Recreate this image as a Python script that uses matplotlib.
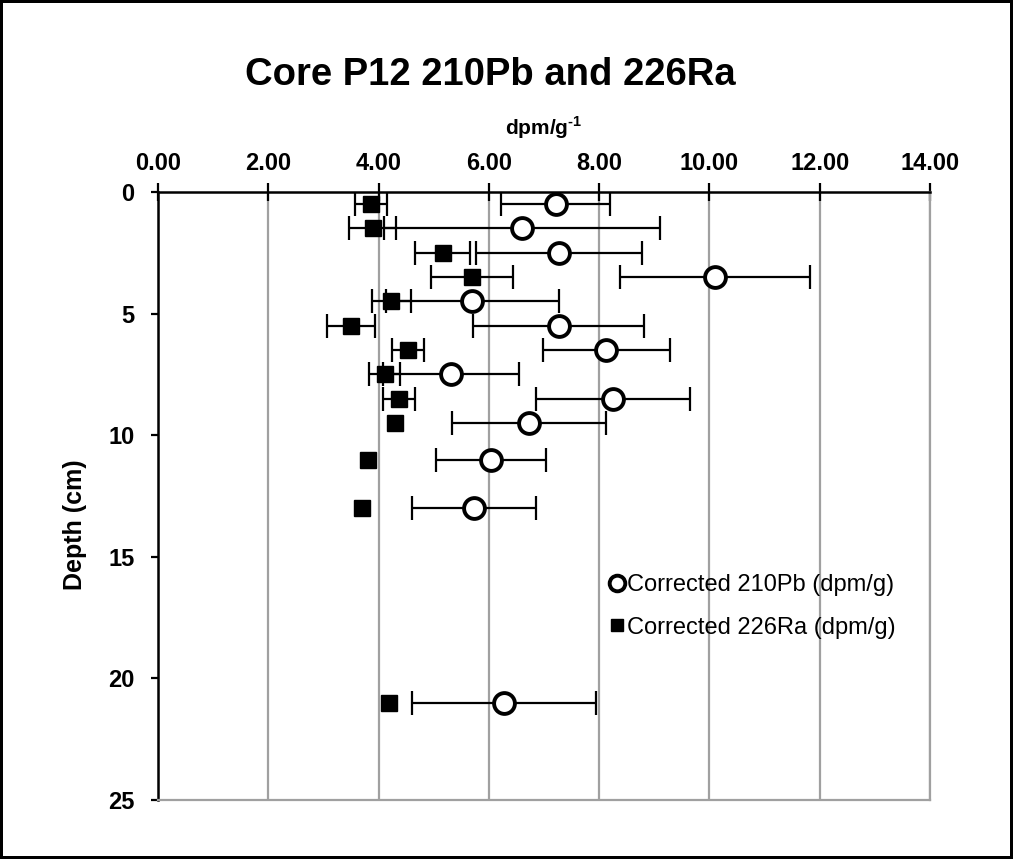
import matplotlib
matplotlib.use("Agg")
import matplotlib.pyplot as plt
import numpy as np

plt.rcParams['font.family'] = ['Liberation Sans', 'DejaVu Sans']
plt.rcParams['mathtext.fontset'] = 'custom'
plt.rcParams['mathtext.rm'] = 'Liberation Sans:bold'

# Depth of each slice (cm)
depth = [0.5, 1.5, 2.5, 3.5, 4.5, 5.5, 6.5, 7.5, 8.5, 9.5, 11, 13, 21]

# Corrected 210Pb activity and its error (dpm/g)
pb210 = [7.21, 6.60, 7.27, 10.10, 5.70, 7.27, 8.13, 5.31, 8.25, 6.73, 6.04, 5.73, 6.28]
pb210_err = [0.99, 2.50, 1.50, 1.72, 1.57, 1.55, 1.15, 1.23, 1.40, 1.39, 0.99, 1.13, 1.67]

# Corrected 226Ra activity and its error (dpm/g), 0 = no bar shown
ra226 = [3.87, 3.89, 5.16, 5.69, 4.23, 3.50, 4.54, 4.11, 4.37, 4.30, 3.81, 3.70, 4.19]
ra226_err = [0.29, 0.43, 0.50, 0.74, 0.35, 0.43, 0.29, 0.28, 0.29, 0, 0, 0, 0]

x_ticks = [0, 2, 4, 6, 8, 10, 12, 14]
y_ticks = [0, 5, 10, 15, 20, 25]

grid_grey = '#a0a0a0'

fig = plt.figure(figsize=(10.13, 8.59), dpi=100)
fig.patch.set_edgecolor('black')
fig.patch.set_linewidth(4)
ax = fig.add_axes([0.156, 0.0687, 0.762, 0.7078])

bar_style = dict(fmt='none', ecolor='black', elinewidth=1.6, capsize=8.5, capthick=1.6)

ax.errorbar(pb210, depth, xerr=pb210_err, zorder=3, **bar_style)
ax.plot(pb210, depth, 'o', color='black', markersize=15, markerfacecolor='white',
        markeredgewidth=2.8, zorder=4, label='Corrected 210Pb (dpm/g)')

# only the Ra points that carry an error bar
has_err = [i for i, e in enumerate(ra226_err) if e > 0]
ax.errorbar([ra226[i] for i in has_err], [depth[i] for i in has_err],
            xerr=[ra226_err[i] for i in has_err], zorder=3, **bar_style)
ax.plot(ra226, depth, 's', color='black', markersize=12, zorder=5,
        label='Corrected 226Ra (dpm/g)')

ax.set_xlim(0, 14)
ax.set_ylim(25, 0)
ax.set_xticks(x_ticks)
ax.set_yticks(y_ticks)
ax.set_xticklabels(['%.2f' % v for v in x_ticks])
ax.xaxis.tick_top()
ax.xaxis.set_label_position('top')
ax.tick_params(axis='x', direction='inout', length=13, width=1.6, pad=6,
               labelsize=17)
ax.tick_params(axis='y', direction='out', length=5, width=1.6, pad=12,
               labelsize=17)
for lab in ax.get_xticklabels() + ax.get_yticklabels():
    lab.set_fontweight('bold')

ax.grid(axis='x', color=grid_grey, linewidth=1.6)
ax.set_axisbelow(True)
for side in ['top', 'left']:
    ax.spines[side].set_color('black')
    ax.spines[side].set_linewidth(1.8)
for side in ['bottom', 'right']:
    ax.spines[side].set_color(grid_grey)
    ax.spines[side].set_linewidth(1.6)

ax.set_xlabel(r'dpm/g$^{\text{-1}}$', fontsize=15, fontweight='bold', labelpad=12)
ax.set_ylabel('Depth (cm)', fontsize=18, fontweight='bold')
ax.yaxis.set_label_coords(-0.092, 0.452)
fig.text(0.484, 0.913, 'Core P12 210Pb and 226Ra', fontsize=27.5, fontweight='bold',
         ha='center', va='center')

leg = ax.legend(loc='upper left', bbox_to_anchor=(0.575, 0.3865),
                frameon=False, fontsize=17, handlelength=0.5, handletextpad=0.15,
                labelspacing=0.85, markerscale=0.75, borderaxespad=0)

fig.savefig('out.png', dpi=100)
